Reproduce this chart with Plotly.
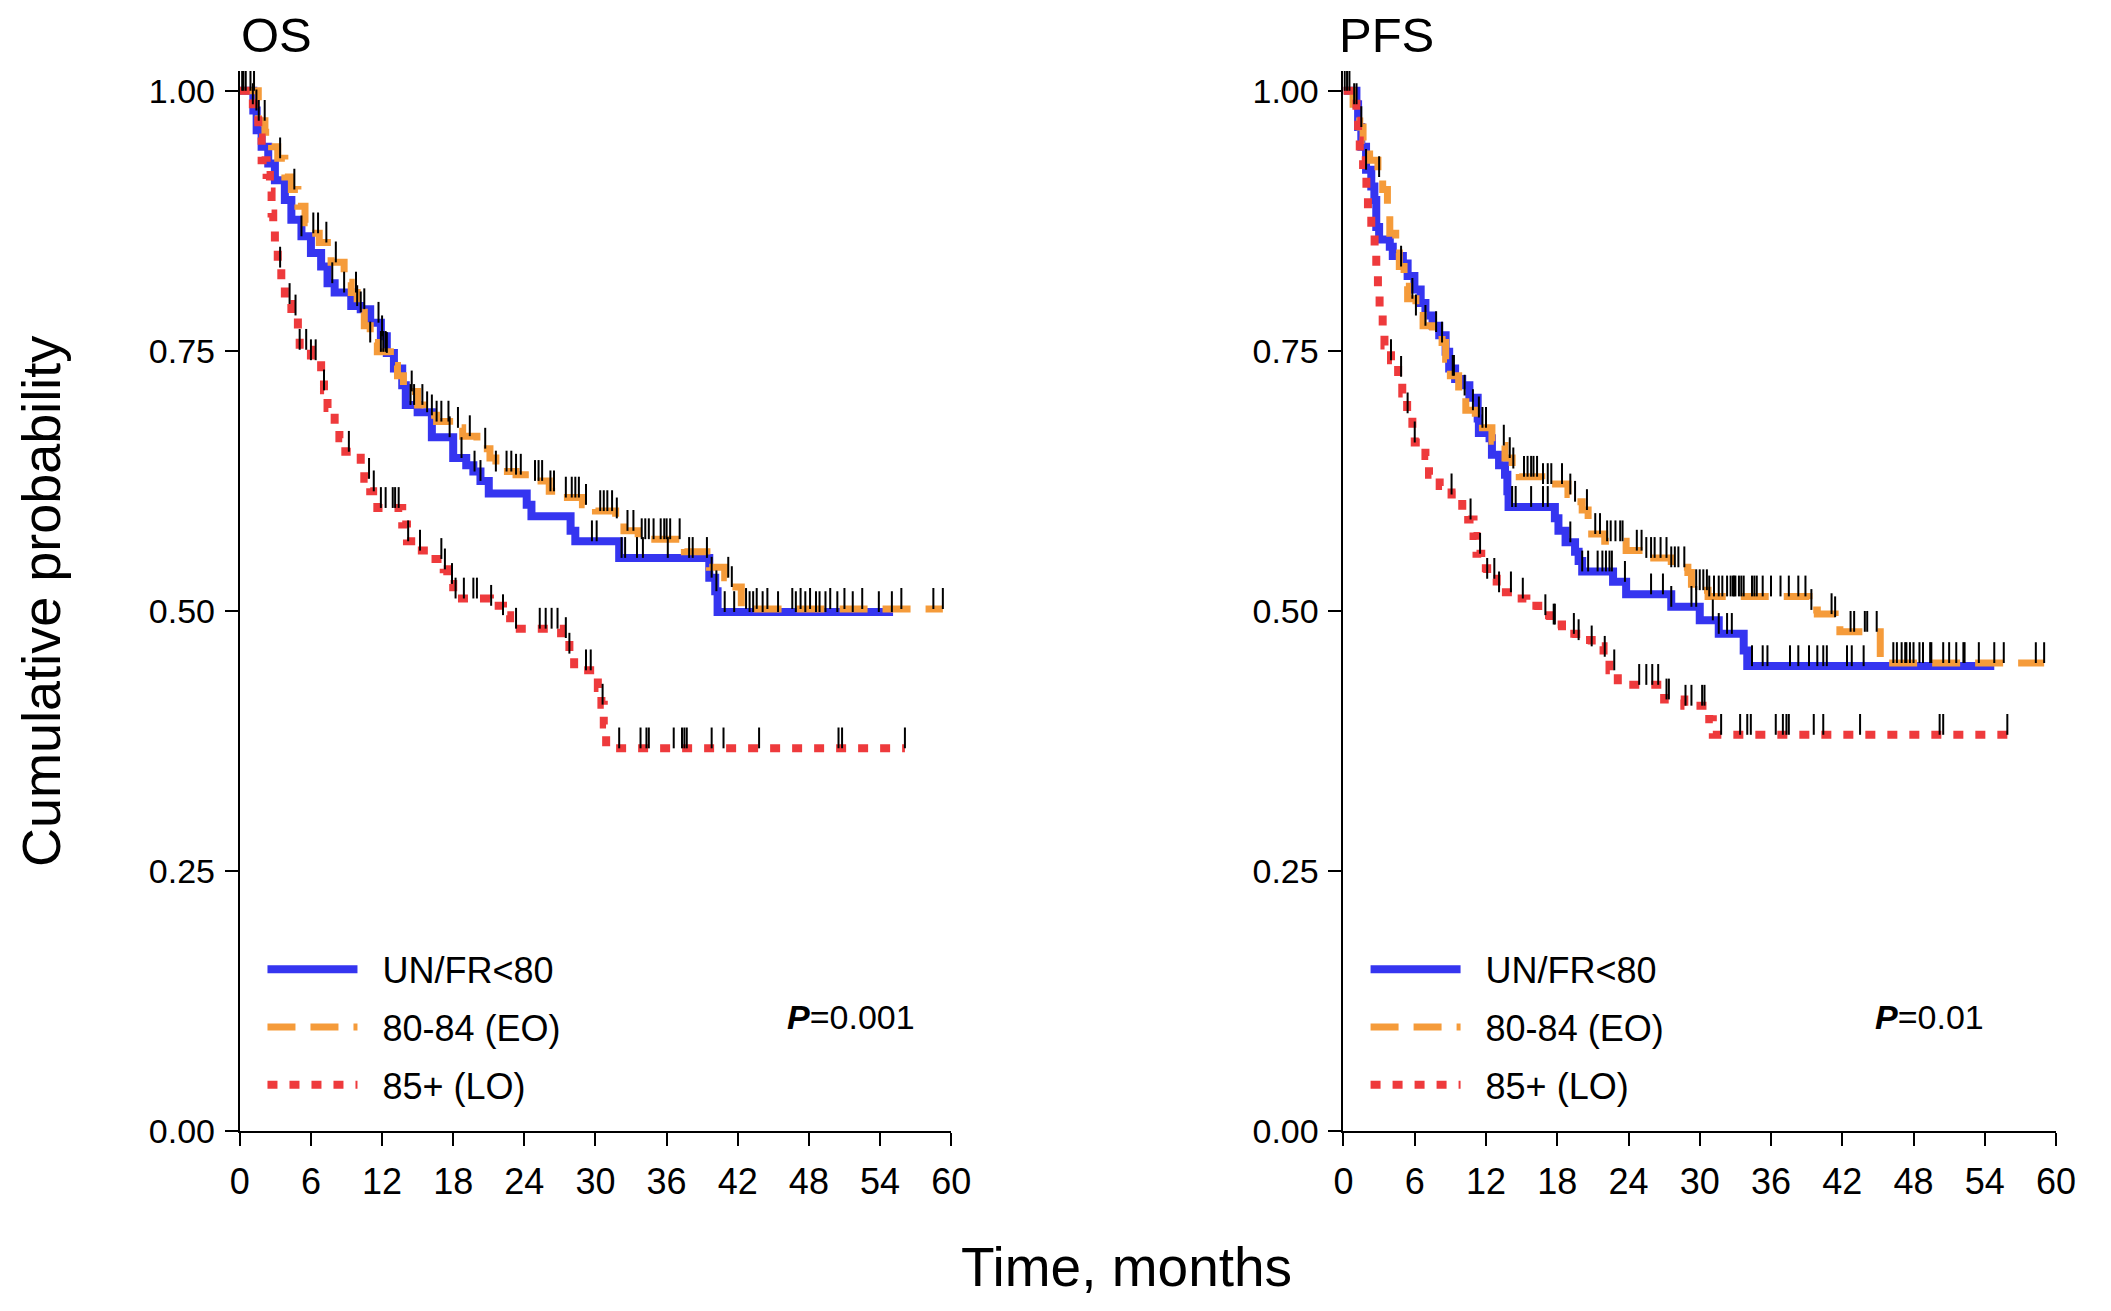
import plotly.graph_objects as go

# ---------------- data ----------------
GROUPS = ["UN/FR<80", "80-84 (EO)", "85+ (LO)"]
PANEL_TITLES = ["OS", "PFS"]
P_LABELS = ["<b><i>P</i></b>=0.001", "<b><i>P</i></b>=0.01"]
X_TICKS = [0, 6, 12, 18, 24, 30, 36, 42, 48, 54, 60]
Y_TICKS = [0, 0.25, 0.5, 0.75, 1.0]
Y_TICK_LABELS = ["0.00", "0.25", "0.50", "0.75", "1.00"]

# OS - UN/FR<80
os_blue_t = [0, 1.0, 1.14, 1.42, 1.84, 2.4, 2.96, 3.8, 4.35, 5.2, 6.0, 6.86, 7.4, 8.0, 9.4, 10.2,
             11.0, 11.9, 12.4, 13.0, 13.7, 14.0, 15.0, 16.2, 18.0, 19.1, 19.7, 20.3, 21.0, 24.2,
             24.6, 27.9, 28.3, 32.0, 39.6, 40.1, 40.3, 55.1]
os_blue_s = [1.0, 1.0, 0.981, 0.962, 0.946, 0.930, 0.914, 0.895, 0.876, 0.860, 0.844, 0.831, 0.815,
             0.806, 0.793, 0.790, 0.777, 0.764, 0.748, 0.733, 0.717, 0.698, 0.691, 0.667, 0.647,
             0.640, 0.634, 0.625, 0.613, 0.602, 0.591, 0.577, 0.567, 0.551, 0.532, 0.519, 0.499, 0.499]
os_blue_c = [0.5, 1.4, 5.2, 7.8, 8.8, 9.9, 10.5, 11.7, 12.0, 12.4, 14.4, 14.7, 15.8, 17.7, 18.7,
             19.8, 20.3, 29.7, 30.1, 32.2, 32.5, 33.5, 34.0, 36.1, 37.9, 38.2, 39.8, 40.2, 40.9,
             41.7, 43.0, 43.3, 44.1, 45.4, 46.9, 47.7, 48.6, 48.9, 49.4, 50.4, 51.7, 53.9, 55.0]

# OS - 80-84 (EO)
os_orange_t = [0, 1.2, 1.56, 2.12, 2.68, 3.2, 3.8, 4.35, 4.9, 5.5, 6.0, 6.7, 7.7, 8.8, 9.4, 9.9,
               10.5, 11.0, 11.6, 12.7, 13.3, 13.8, 15.0, 15.5, 16.6, 17.7, 18.8, 20.0, 21.1, 21.6,
               23.3, 24.4, 26.1, 27.2, 28.9, 30.0, 31.7, 32.4, 33.6, 37.3, 37.5, 39.4, 39.6, 40.9,
               41.4, 42.3, 59.3]
os_orange_s = [1.0, 1.0, 0.971, 0.960, 0.946, 0.935, 0.917, 0.905, 0.889, 0.873, 0.863, 0.854,
               0.835, 0.816, 0.806, 0.787, 0.774, 0.758, 0.749, 0.736, 0.726, 0.711, 0.698, 0.688,
               0.682, 0.676, 0.668, 0.656, 0.647, 0.634, 0.631, 0.625, 0.615, 0.609, 0.602, 0.596,
               0.589, 0.577, 0.569, 0.564, 0.557, 0.551, 0.542, 0.532, 0.523, 0.502, 0.502]
os_orange_c = [0.2, 0.9, 1.2, 1.6, 2.1, 3.4, 4.6, 6.2, 6.6, 7.3, 8.1, 9.8, 10.2, 11.0, 11.9, 12.1,
               12.3, 14.5, 15.4, 16.2, 16.6, 17.0, 17.6, 18.4, 19.4, 20.7, 21.6, 22.5, 22.9, 23.3,
               23.7, 24.9, 25.2, 25.5, 26.2, 26.5, 27.5, 28.0, 28.3, 28.6, 29.2, 30.4, 30.7, 31.0,
               31.4, 31.8, 32.7, 33.2, 33.9, 34.2, 34.5, 34.9, 35.5, 35.8, 36.0, 36.3, 37.1, 39.4,
               41.2, 41.5, 42.7, 43.6, 44.5, 46.6, 47.3, 48.1, 49.8, 51.0, 52.5, 55.8, 58.5, 59.3]

# OS - 85+ (LO)
os_red_t = [0, 1.0, 1.1, 1.56, 1.84, 2.26, 2.54, 2.68, 2.82, 2.96, 3.2, 3.5, 3.8, 4.35, 4.9, 5.05,
            6.0, 6.86, 7.1, 7.4, 8.0, 8.4, 8.9, 10.2, 10.5, 11.0, 11.6, 13.7, 14.1, 14.95, 15.9,
            17.2, 17.5, 18.0, 21.1, 22.2, 22.8, 27.1, 27.8, 28.2, 30.2, 30.5, 30.7, 30.9, 56.1]
os_red_s = [1.0, 1.0, 0.987, 0.955, 0.933, 0.919, 0.903, 0.882, 0.866, 0.847, 0.830, 0.812, 0.795,
            0.784, 0.768, 0.751, 0.741, 0.730, 0.712, 0.695, 0.679, 0.666, 0.653, 0.640, 0.627,
            0.615, 0.599, 0.583, 0.567, 0.558, 0.550, 0.540, 0.526, 0.512, 0.505, 0.496, 0.483,
            0.474, 0.459, 0.443, 0.426, 0.410, 0.391, 0.368, 0.368]
os_red_c = [0.3, 1.1, 3.4, 4.2, 4.7, 5.05, 5.6, 6.0, 6.4, 7.1, 9.2, 10.9, 11.3, 11.9, 12.3, 12.9,
            13.1, 13.4, 14.2, 15.2, 17.0, 17.3, 17.9, 18.2, 18.9, 19.7, 20.0, 21.2, 22.2, 23.3,
            25.3, 25.8, 26.3, 26.8, 27.5, 27.8, 29.2, 29.6, 30.6, 32.0, 33.8, 34.3, 34.5, 36.6,
            37.3, 37.5, 37.7, 39.8, 40.8, 43.8, 50.5, 50.8, 56.1]

# PFS - UN/FR<80
pfs_blue_t = [0, 1.0, 1.09, 1.23, 1.5, 1.9, 2.34, 2.6, 2.76, 3.0, 3.9, 4.15, 5.0, 5.4, 5.97, 6.5,
              6.9, 7.5, 8.06, 8.6, 8.9, 9.4, 10.0, 10.6, 11.3, 11.4, 12.3, 12.5, 13.1, 13.6, 13.8,
              13.9, 17.8, 18.1, 18.7, 19.5, 19.8, 20.1, 22.7, 23.8, 27.6, 30.0, 31.6, 33.7, 34.0,
              54.8]
pfs_blue_s = [1.0, 1.0, 0.987, 0.965, 0.946, 0.924, 0.908, 0.895, 0.869, 0.857, 0.850, 0.841,
              0.834, 0.822, 0.809, 0.796, 0.784, 0.774, 0.765, 0.749, 0.733, 0.723, 0.717, 0.705,
              0.685, 0.671, 0.666, 0.650, 0.640, 0.631, 0.615, 0.600, 0.589, 0.577, 0.566, 0.557,
              0.548, 0.538, 0.528, 0.516, 0.504, 0.491, 0.478, 0.462, 0.447, 0.447]
pfs_blue_c = [0.5, 1.9, 14.2, 14.5, 15.8, 16.8, 17.2, 19.1, 20.1, 20.6, 21.4, 21.8, 22.1, 22.4,
              22.6, 23.7, 25.9, 26.9, 27.6, 29.3, 29.7, 31.1, 31.6, 32.3, 32.7, 34.4, 35.3, 35.7,
              37.6, 38.3, 39.2, 39.9, 40.4, 40.7, 42.4, 42.8, 43.8]

# PFS - 80-84 (EO)
pfs_orange_t = [0, 0.81, 1.37, 1.65, 2.2, 2.9, 3.3, 3.7, 3.9, 4.4, 4.7, 5.1, 5.4, 6.1, 6.7, 7.5,
                8.3, 8.6, 9.0, 9.7, 10.3, 11.1, 11.7, 12.5, 12.8, 13.6, 14.2, 14.8, 16.7, 18.9,
                19.5, 20.1, 20.6, 20.9, 22.0, 23.8, 25.4, 27.6, 29.0, 29.3, 30.7, 39.2, 39.9,
                41.4, 41.8, 45.2, 59.0]
pfs_orange_s = [1.0, 0.987, 0.965, 0.952, 0.933, 0.917, 0.905, 0.882, 0.863, 0.844, 0.831, 0.812,
                0.800, 0.784, 0.774, 0.768, 0.758, 0.742, 0.726, 0.707, 0.693, 0.686, 0.676,
                0.663, 0.659, 0.647, 0.637, 0.629, 0.622, 0.612, 0.605, 0.597, 0.586, 0.574,
                0.567, 0.558, 0.551, 0.542, 0.537, 0.520, 0.514, 0.501, 0.497, 0.494, 0.480,
                0.450, 0.450]
pfs_orange_c = [0.1, 0.9, 1.1, 1.5, 3.0, 4.85, 5.8, 6.1, 6.9, 7.8, 8.3, 9.2, 9.3, 10.2, 10.9,
                11.4, 11.7, 12.0, 13.5, 14.0, 14.3, 15.2, 15.5, 15.8, 16.0, 16.3, 16.8, 17.2,
                17.5, 18.4, 19.1, 19.5, 20.5, 21.2, 21.6, 22.2, 22.5, 22.9, 23.3, 23.5, 24.7,
                25.1, 25.5, 25.9, 26.2, 26.7, 27.2, 27.6, 27.9, 28.2, 28.7, 29.7, 30.0, 30.3,
                30.6, 30.8, 31.2, 31.6, 31.9, 32.3, 32.6, 32.8, 32.9, 33.0, 33.3, 33.5, 33.7,
                34.4, 34.6, 34.8, 35.3, 36.0, 36.8, 37.5, 38.3, 38.9, 39.4, 41.1, 41.4, 42.7,
                43.0, 43.9, 44.1, 44.9, 46.3, 46.6, 47.0, 47.3, 47.4, 47.7, 48.0, 48.5, 48.8,
                49.4, 49.5, 50.5, 51.0, 51.6, 52.2, 52.3, 53.5, 54.8, 55.6, 58.3, 59.0]

# PFS - 85+ (LO)
pfs_red_t = [0, 0.9, 1.09, 1.23, 1.37, 1.65, 1.93, 2.06, 2.34, 2.62, 2.76, 2.9, 3.04, 3.3, 3.45,
             4.0, 4.6, 4.95, 5.36, 5.8, 6.0, 6.9, 7.2, 8.1, 9.1, 10.0, 10.5, 10.95, 11.2, 11.6,
             12.1, 12.9, 14.3, 15.4, 16.4, 17.4, 18.4, 19.6, 20.9, 21.9, 22.4, 23.1, 27.0, 28.7,
             30.8, 31.1, 55.9]
pfs_red_s = [1.0, 1.0, 0.971, 0.952, 0.933, 0.917, 0.898, 0.879, 0.863, 0.846, 0.828, 0.809,
             0.790, 0.773, 0.755, 0.741, 0.725, 0.709, 0.690, 0.676, 0.662, 0.649, 0.631, 0.620,
             0.612, 0.601, 0.588, 0.572, 0.555, 0.541, 0.531, 0.518, 0.512, 0.505, 0.496, 0.487,
             0.478, 0.472, 0.466, 0.456, 0.443, 0.429, 0.415, 0.409, 0.396, 0.381, 0.381]
pfs_red_c = [0.3, 4.0, 4.85, 5.4, 6.0, 9.1, 10.7, 11.5, 12.1, 12.7, 13.1, 14.1, 15.1, 17.0, 17.7,
             17.8, 19.4, 19.8, 20.9, 22.0, 22.8, 24.9, 25.5, 26.0, 26.5, 27.2, 27.4, 28.8, 29.3,
             30.2, 30.4, 31.8, 33.4, 34.0, 34.3, 36.4, 37.0, 37.3, 37.5, 39.6, 40.4, 43.5, 50.2,
             50.5, 55.9]

# ---------------- styling ----------------
COLORS = ["#3535F0", "#F59B3A", "#EE3A3C"]
WIDTHS = [8, 7, 8]
DASHES = ["solid", "28px,15px", "10px,12px"]
FONT = "Liberation Sans, Arial, sans-serif"
TICK_H = 0.02
LEGEND_PAD = "\u00a0\u00a0"

W, H = 2111, 1311
X_DOMAINS = [[225 / W, 946.6 / W], [1344.6 / W, 2067.4 / W]]
Y_DOMAIN = [1 - 1139.8 / H, 1 - 63.8 / H]
Y_RANGE = [0, 1.019]


def surv_at(ts, ss, t):
    v = ss[0]
    for ti, si in zip(ts, ss):
        if ti <= t:
            v = si
        else:
            break
    return v


panels = [
    [(os_blue_t, os_blue_s, os_blue_c), (os_orange_t, os_orange_s, os_orange_c),
     (os_red_t, os_red_s, os_red_c)],
    [(pfs_blue_t, pfs_blue_s, pfs_blue_c), (pfs_orange_t, pfs_orange_s, pfs_orange_c),
     (pfs_red_t, pfs_red_s, pfs_red_c)],
]

fig = go.Figure()
for pi, curves in enumerate(panels):
    xa = "x" if pi == 0 else "x2"
    ya = "y" if pi == 0 else "y2"
    lg = "legend" if pi == 0 else "legend2"
    for gi, (t, s, c) in enumerate(curves):
        fig.add_trace(go.Scatter(
            x=t, y=s, mode="lines", name=LEGEND_PAD + GROUPS[gi],
            line=dict(color=COLORS[gi], width=WIDTHS[gi], dash=DASHES[gi], shape="hv"),
            xaxis=xa, yaxis=ya, legend=lg, legendgroup=f"p{pi}g{gi}",
        ))
    cx, cy = [], []
    for gi, (t, s, c) in enumerate(curves):
        for tc in c:
            p = surv_at(t, s, tc)
            cx += [tc, tc, None]
            cy += [p, p + TICK_H, None]
    fig.add_trace(go.Scatter(
        x=cx, y=cy, mode="lines", line=dict(color="black", width=2),
        xaxis=xa, yaxis=ya, showlegend=False, hoverinfo="skip",
    ))

axis_common = dict(
    showline=True, linecolor="black", linewidth=2, ticks="outside", ticklen=13,
    tickwidth=2, tickcolor="black", showgrid=False, zeroline=False,
)
xfont = dict(family=FONT, size=36, color="black")
yfont = dict(family=FONT, size=34, color="black")

legend_common = dict(
    xanchor="left", yanchor="top", font=dict(family=FONT, size=36, color="black"),
    itemwidth=90, tracegroupgap=8, traceorder="grouped", bgcolor="rgba(0,0,0,0)",
)

fig.update_layout(
    width=W, height=H, margin=dict(l=0, r=0, t=0, b=0),
    paper_bgcolor="white", plot_bgcolor="white",
    xaxis=dict(domain=X_DOMAINS[0], range=[0, 60], tickvals=X_TICKS, anchor="y",
               tickfont=xfont, ticklabelstandoff=5, **axis_common),
    yaxis=dict(domain=Y_DOMAIN, range=Y_RANGE, tickvals=Y_TICKS, ticktext=Y_TICK_LABELS,
               anchor="x", tickfont=yfont, ticklabelstandoff=3, **axis_common),
    xaxis2=dict(domain=X_DOMAINS[1], range=[0, 60], tickvals=X_TICKS, anchor="y2",
                tickfont=xfont, ticklabelstandoff=5, **axis_common),
    yaxis2=dict(domain=Y_DOMAIN, range=Y_RANGE, tickvals=Y_TICKS, ticktext=Y_TICK_LABELS,
                anchor="x2", tickfont=yfont, ticklabelstandoff=3, **axis_common),
    legend=dict(x=248 / W, y=1 - 945 / H, **legend_common),
    legend2=dict(x=1367 / W, y=1 - 945 / H, **legend_common),
    showlegend=True,
)

annotations = []
for pi in range(2):
    annotations.append(dict(
        text=PANEL_TITLES[pi], xref="paper", yref="paper",
        x=(224 if pi == 0 else 1338) / W, y=1 - 27 / H, xanchor="left", yanchor="middle",
        showarrow=False, font=dict(family=FONT, size=49, color="black"),
    ))
    annotations.append(dict(
        text=P_LABELS[pi], xref="x" if pi == 0 else "x2", yref="y" if pi == 0 else "y2",
        x=46.0 if pi == 0 else 44.6, y=0.11, xanchor="left", yanchor="middle",
        showarrow=False, font=dict(family=FONT, size=34, color="black"),
    ))
annotations.append(dict(
    text="Cumulative probability", xref="paper", yref="paper", x=24 / W, y=1 - 602 / H,
    xanchor="center", yanchor="middle", textangle=-90, showarrow=False,
    font=dict(family=FONT, size=54, color="black"),
))
annotations.append(dict(
    text="Time, months", xref="paper", yref="paper", x=1124 / W, y=0,
    xanchor="center", yanchor="bottom", showarrow=False,
    font=dict(family=FONT, size=55, color="black"),
))
fig.update_layout(annotations=annotations)

fig.write_html("out.html")
